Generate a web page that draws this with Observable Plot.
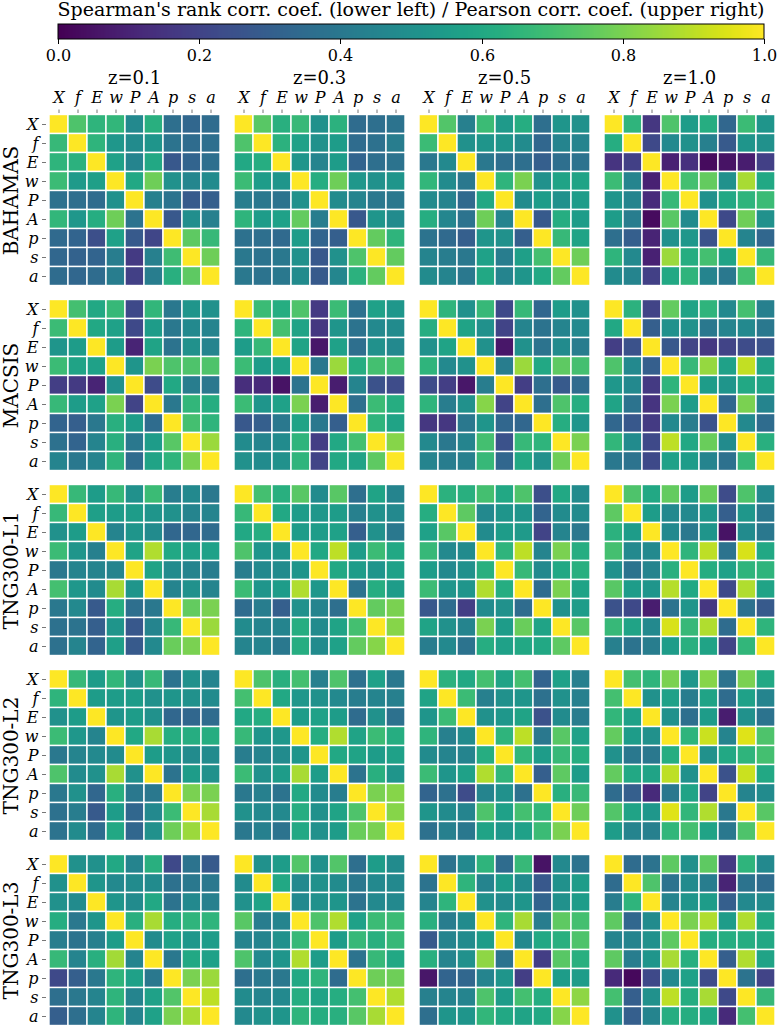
<!DOCTYPE html>
<html>
<head>
<meta charset="utf-8">
<script src="https://cdn.jsdelivr.net/npm/d3@7"></script>
<script src="https://cdn.jsdelivr.net/npm/@observablehq/plot@0.6"></script>
<style>
  html, body { margin: 0; padding: 0; background: white; }
  #legend svg, #chart svg { display: block; }
</style>
</head>
<body>
<div id="legend"></div>
<div id="chart"></div>
<script>
const title = "Spearman's rank corr. coef. (lower left) / Pearson corr. coef. (upper right)";
const vars = ["X", "f", "E", "w", "P", "A", "p", "s", "a"];
const redshifts = ["z=0.1", "z=0.3", "z=0.5", "z=1.0"];
const sims = ["BAHAMAS", "MACSIS", "TNG300-L1", "TNG300-L2", "TNG300-L3"];
const colorTicks = [0, 0.2, 0.4, 0.6, 0.8, 1.0];

// rows = y variable (X..a top to bottom), columns = x variable
const BAHAMAS_z01 = [
  [1, 0.72, 0.65, 0.66, 0.47, 0.63, 0.36, 0.33, 0.35],
  [0.67, 1, 0.65, 0.53, 0.48, 0.52, 0.38, 0.35, 0.36],
  [0.65, 0.64, 1, 0.57, 0.45, 0.60, 0.27, 0.32, 0.36],
  [0.68, 0.54, 0.56, 1, 0.60, 0.78, 0.50, 0.46, 0.48],
  [0.37, 0.36, 0.35, 0.50, 1, 0.43, 0.38, 0.28, 0.30],
  [0.66, 0.53, 0.62, 0.78, 0.38, 1, 0.27, 0.49, 0.43],
  [0.34, 0.32, 0.24, 0.57, 0.28, 0.21, 1, 0.75, 0.67],
  [0.33, 0.31, 0.32, 0.42, 0.17, 0.43, 0.69, 1, 0.78],
  [0.35, 0.33, 0.35, 0.42, 0.19, 0.42, 0.63, 0.75, 1]
];
const BAHAMAS_z03 = [
  [1, 0.74, 0.63, 0.67, 0.50, 0.64, 0.35, 0.36, 0.38],
  [0.72, 1, 0.64, 0.57, 0.50, 0.55, 0.35, 0.37, 0.42],
  [0.60, 0.62, 1, 0.52, 0.45, 0.55, 0.32, 0.36, 0.38],
  [0.68, 0.55, 0.52, 1, 0.62, 0.78, 0.53, 0.50, 0.52],
  [0.42, 0.40, 0.38, 0.50, 1, 0.48, 0.45, 0.40, 0.40],
  [0.65, 0.55, 0.57, 0.76, 0.42, 1, 0.27, 0.52, 0.48],
  [0.37, 0.36, 0.34, 0.55, 0.32, 0.30, 1, 0.76, 0.65],
  [0.40, 0.38, 0.40, 0.50, 0.27, 0.50, 0.72, 1, 0.76],
  [0.40, 0.38, 0.40, 0.48, 0.28, 0.46, 0.64, 0.76, 1]
];
const BAHAMAS_z05 = [
  [1, 0.73, 0.43, 0.68, 0.54, 0.62, 0.36, 0.52, 0.50],
  [0.68, 1, 0.50, 0.52, 0.52, 0.48, 0.33, 0.45, 0.45],
  [0.40, 0.47, 1, 0.40, 0.36, 0.36, 0.30, 0.36, 0.38],
  [0.66, 0.48, 0.40, 1, 0.65, 0.80, 0.50, 0.58, 0.58],
  [0.48, 0.45, 0.34, 0.60, 1, 0.48, 0.55, 0.50, 0.55],
  [0.62, 0.46, 0.38, 0.78, 0.45, 1, 0.28, 0.62, 0.55],
  [0.38, 0.34, 0.30, 0.52, 0.50, 0.30, 1, 0.67, 0.58],
  [0.45, 0.42, 0.40, 0.57, 0.42, 0.56, 0.70, 1, 0.78],
  [0.48, 0.45, 0.40, 0.60, 0.45, 0.52, 0.60, 0.76, 1]
];
const BAHAMAS_z10 = [
  [1, 0.65, 0.16, 0.72, 0.55, 0.62, 0.33, 0.68, 0.52],
  [0.62, 1, 0.22, 0.47, 0.50, 0.43, 0.28, 0.52, 0.50],
  [0.15, 0.19, 1, 0.09, 0.14, 0.03, 0.05, 0.08, 0.19],
  [0.68, 0.45, 0.09, 1, 0.70, 0.76, 0.50, 0.87, 0.60],
  [0.52, 0.45, 0.12, 0.67, 1, 0.50, 0.60, 0.65, 0.68],
  [0.55, 0.42, 0.03, 0.74, 0.48, 1, 0.22, 0.78, 0.50],
  [0.36, 0.30, 0.10, 0.50, 0.53, 0.25, 1, 0.45, 0.33],
  [0.65, 0.47, 0.09, 0.85, 0.62, 0.70, 0.58, 1, 0.67],
  [0.48, 0.45, 0.19, 0.60, 0.65, 0.45, 0.40, 0.70, 1]
];
const MACSIS_z01 = [
  [1, 0.70, 0.60, 0.67, 0.22, 0.66, 0.40, 0.52, 0.50],
  [0.68, 1, 0.60, 0.57, 0.22, 0.55, 0.40, 0.47, 0.45],
  [0.52, 0.55, 1, 0.55, 0.10, 0.58, 0.38, 0.50, 0.45],
  [0.68, 0.58, 0.57, 1, 0.52, 0.80, 0.72, 0.72, 0.72],
  [0.18, 0.17, 0.10, 0.50, 1, 0.23, 0.60, 0.42, 0.40],
  [0.67, 0.55, 0.57, 0.80, 0.20, 1, 0.40, 0.66, 0.62],
  [0.32, 0.30, 0.40, 0.63, 0.55, 0.35, 1, 0.70, 0.65],
  [0.37, 0.32, 0.45, 0.63, 0.40, 0.55, 0.74, 1, 0.85],
  [0.45, 0.40, 0.45, 0.65, 0.35, 0.58, 0.65, 0.80, 1]
];
const MACSIS_z03 = [
  [1, 0.68, 0.62, 0.72, 0.17, 0.68, 0.37, 0.57, 0.53],
  [0.65, 1, 0.70, 0.58, 0.16, 0.52, 0.38, 0.47, 0.48],
  [0.55, 0.67, 1, 0.58, 0.06, 0.57, 0.36, 0.50, 0.47],
  [0.68, 0.55, 0.57, 1, 0.40, 0.85, 0.62, 0.70, 0.70],
  [0.13, 0.12, 0.05, 0.38, 1, 0.08, 0.45, 0.25, 0.23],
  [0.68, 0.52, 0.57, 0.80, 0.08, 1, 0.36, 0.68, 0.62],
  [0.27, 0.30, 0.40, 0.58, 0.40, 0.30, 1, 0.65, 0.58],
  [0.48, 0.45, 0.48, 0.65, 0.18, 0.60, 0.70, 1, 0.82],
  [0.50, 0.48, 0.50, 0.65, 0.20, 0.60, 0.58, 0.75, 1]
];
const MACSIS_z05 = [
  [1, 0.65, 0.50, 0.67, 0.22, 0.67, 0.33, 0.55, 0.50],
  [0.62, 1, 0.58, 0.50, 0.20, 0.45, 0.38, 0.45, 0.47],
  [0.50, 0.58, 1, 0.50, 0.06, 0.50, 0.38, 0.48, 0.42],
  [0.65, 0.47, 0.50, 1, 0.42, 0.85, 0.60, 0.75, 0.70],
  [0.23, 0.18, 0.06, 0.42, 1, 0.18, 0.36, 0.28, 0.35],
  [0.65, 0.42, 0.50, 0.82, 0.20, 1, 0.36, 0.72, 0.62],
  [0.16, 0.16, 0.40, 0.52, 0.33, 0.33, 1, 0.62, 0.52],
  [0.47, 0.40, 0.45, 0.70, 0.25, 0.67, 0.65, 1, 0.80],
  [0.45, 0.42, 0.43, 0.67, 0.33, 0.60, 0.50, 0.78, 1]
];
const MACSIS_z10 = [
  [1, 0.64, 0.20, 0.76, 0.58, 0.65, 0.47, 0.70, 0.43],
  [0.60, 1, 0.30, 0.50, 0.50, 0.40, 0.45, 0.47, 0.40],
  [0.18, 0.25, 1, 0.27, 0.20, 0.16, 0.20, 0.23, 0.25],
  [0.72, 0.47, 0.30, 1, 0.67, 0.84, 0.57, 0.91, 0.58],
  [0.53, 0.47, 0.17, 0.65, 1, 0.55, 0.52, 0.60, 0.58],
  [0.58, 0.38, 0.15, 0.80, 0.55, 1, 0.33, 0.80, 0.45],
  [0.33, 0.27, 0.17, 0.47, 0.42, 0.25, 1, 0.47, 0.35],
  [0.66, 0.48, 0.22, 0.90, 0.60, 0.77, 0.48, 1, 0.63],
  [0.40, 0.38, 0.22, 0.57, 0.55, 0.45, 0.37, 0.67, 1]
];
const TNG300_L1_z01 = [
  [1, 0.67, 0.55, 0.67, 0.50, 0.68, 0.42, 0.47, 0.40],
  [0.67, 1, 0.56, 0.55, 0.55, 0.52, 0.50, 0.45, 0.45],
  [0.50, 0.55, 1, 0.45, 0.52, 0.48, 0.33, 0.33, 0.35],
  [0.68, 0.52, 0.43, 1, 0.58, 0.88, 0.60, 0.57, 0.57],
  [0.40, 0.45, 0.45, 0.45, 1, 0.58, 0.48, 0.45, 0.42],
  [0.70, 0.53, 0.48, 0.87, 0.52, 1, 0.45, 0.50, 0.45],
  [0.40, 0.47, 0.28, 0.62, 0.36, 0.40, 1, 0.76, 0.80],
  [0.37, 0.38, 0.30, 0.52, 0.27, 0.45, 0.67, 1, 0.85],
  [0.37, 0.45, 0.32, 0.56, 0.28, 0.47, 0.77, 0.80, 1]
];
const TNG300_L1_z03 = [
  [1, 0.70, 0.63, 0.74, 0.48, 0.74, 0.36, 0.58, 0.45],
  [0.67, 1, 0.60, 0.55, 0.53, 0.55, 0.43, 0.50, 0.47],
  [0.60, 0.62, 1, 0.55, 0.55, 0.57, 0.30, 0.50, 0.40],
  [0.72, 0.52, 0.52, 1, 0.60, 0.90, 0.55, 0.68, 0.60],
  [0.42, 0.47, 0.48, 0.52, 1, 0.60, 0.55, 0.52, 0.57],
  [0.68, 0.52, 0.55, 0.88, 0.53, 1, 0.38, 0.62, 0.55],
  [0.35, 0.42, 0.30, 0.50, 0.45, 0.36, 1, 0.76, 0.80],
  [0.48, 0.45, 0.45, 0.62, 0.48, 0.58, 0.70, 1, 0.82],
  [0.45, 0.45, 0.40, 0.62, 0.48, 0.57, 0.76, 0.82, 1]
];
const TNG300_L1_z05 = [
  [1, 0.64, 0.63, 0.70, 0.60, 0.72, 0.24, 0.60, 0.48],
  [0.62, 1, 0.75, 0.47, 0.52, 0.52, 0.32, 0.48, 0.48],
  [0.57, 0.74, 1, 0.48, 0.55, 0.54, 0.20, 0.45, 0.40],
  [0.67, 0.47, 0.48, 1, 0.65, 0.90, 0.45, 0.80, 0.62],
  [0.55, 0.47, 0.50, 0.63, 1, 0.67, 0.47, 0.60, 0.63],
  [0.68, 0.52, 0.52, 0.88, 0.62, 1, 0.35, 0.80, 0.58],
  [0.27, 0.35, 0.18, 0.48, 0.50, 0.35, 1, 0.50, 0.55],
  [0.58, 0.50, 0.45, 0.80, 0.55, 0.77, 0.58, 1, 0.74],
  [0.42, 0.47, 0.38, 0.62, 0.57, 0.60, 0.60, 0.75, 1]
];
const TNG300_L1_z10 = [
  [1, 0.72, 0.60, 0.76, 0.55, 0.77, 0.23, 0.72, 0.47],
  [0.75, 1, 0.55, 0.47, 0.47, 0.53, 0.30, 0.53, 0.40],
  [0.64, 0.55, 1, 0.47, 0.40, 0.52, 0.05, 0.48, 0.40],
  [0.70, 0.47, 0.47, 1, 0.65, 0.90, 0.38, 0.94, 0.60],
  [0.50, 0.38, 0.45, 0.63, 1, 0.62, 0.57, 0.65, 0.65],
  [0.74, 0.55, 0.52, 0.89, 0.60, 1, 0.22, 0.88, 0.58],
  [0.25, 0.22, 0.08, 0.38, 0.52, 0.16, 1, 0.37, 0.28],
  [0.67, 0.58, 0.47, 0.94, 0.67, 0.88, 0.35, 1, 0.65],
  [0.43, 0.38, 0.42, 0.55, 0.63, 0.58, 0.20, 0.66, 1]
];
const TNG300_L2_z01 = [
  [1, 0.67, 0.55, 0.66, 0.50, 0.67, 0.38, 0.50, 0.45],
  [0.65, 1, 0.55, 0.55, 0.55, 0.50, 0.52, 0.50, 0.48],
  [0.50, 0.55, 1, 0.52, 0.55, 0.50, 0.33, 0.33, 0.35],
  [0.68, 0.53, 0.45, 1, 0.60, 0.87, 0.62, 0.62, 0.62],
  [0.40, 0.45, 0.47, 0.48, 1, 0.55, 0.52, 0.48, 0.48],
  [0.72, 0.48, 0.50, 0.87, 0.50, 1, 0.38, 0.55, 0.50],
  [0.40, 0.50, 0.33, 0.63, 0.40, 0.40, 1, 0.80, 0.80],
  [0.37, 0.42, 0.28, 0.55, 0.33, 0.47, 0.68, 1, 0.87],
  [0.38, 0.48, 0.35, 0.60, 0.33, 0.50, 0.78, 0.85, 1]
];
const TNG300_L2_z03 = [
  [1, 0.72, 0.63, 0.70, 0.43, 0.72, 0.37, 0.57, 0.40],
  [0.70, 1, 0.60, 0.53, 0.50, 0.47, 0.42, 0.45, 0.43],
  [0.60, 0.62, 1, 0.55, 0.57, 0.55, 0.35, 0.50, 0.37],
  [0.67, 0.52, 0.53, 1, 0.62, 0.88, 0.58, 0.68, 0.62],
  [0.42, 0.45, 0.48, 0.52, 1, 0.60, 0.58, 0.55, 0.57],
  [0.68, 0.50, 0.55, 0.87, 0.55, 1, 0.38, 0.63, 0.52],
  [0.40, 0.43, 0.38, 0.60, 0.48, 0.42, 1, 0.80, 0.82],
  [0.50, 0.47, 0.47, 0.62, 0.50, 0.58, 0.72, 1, 0.82],
  [0.40, 0.43, 0.38, 0.60, 0.50, 0.55, 0.77, 0.80, 1]
];
const TNG300_L2_z05 = [
  [1, 0.64, 0.60, 0.70, 0.58, 0.70, 0.32, 0.57, 0.43],
  [0.58, 1, 0.68, 0.43, 0.50, 0.52, 0.37, 0.50, 0.43],
  [0.52, 0.68, 1, 0.50, 0.53, 0.58, 0.25, 0.48, 0.42],
  [0.65, 0.43, 0.48, 1, 0.65, 0.90, 0.40, 0.74, 0.57],
  [0.48, 0.45, 0.45, 0.62, 1, 0.66, 0.55, 0.67, 0.62],
  [0.68, 0.52, 0.57, 0.88, 0.66, 1, 0.30, 0.75, 0.55],
  [0.32, 0.37, 0.23, 0.45, 0.50, 0.37, 1, 0.63, 0.67],
  [0.52, 0.48, 0.45, 0.72, 0.57, 0.70, 0.66, 1, 0.78],
  [0.37, 0.43, 0.40, 0.58, 0.53, 0.57, 0.68, 0.80, 1]
];
const TNG300_L2_z10 = [
  [1, 0.70, 0.65, 0.80, 0.53, 0.82, 0.38, 0.80, 0.60],
  [0.70, 1, 0.50, 0.57, 0.42, 0.58, 0.35, 0.57, 0.45],
  [0.66, 0.57, 1, 0.50, 0.36, 0.55, 0.08, 0.50, 0.38],
  [0.76, 0.55, 0.50, 1, 0.65, 0.92, 0.45, 0.95, 0.72],
  [0.50, 0.40, 0.40, 0.62, 1, 0.50, 0.60, 0.65, 0.70],
  [0.76, 0.60, 0.58, 0.90, 0.50, 1, 0.25, 0.92, 0.60],
  [0.35, 0.30, 0.12, 0.40, 0.58, 0.20, 1, 0.45, 0.48],
  [0.73, 0.58, 0.53, 0.95, 0.66, 0.88, 0.40, 1, 0.74],
  [0.55, 0.45, 0.43, 0.66, 0.70, 0.58, 0.40, 0.72, 1]
];
const TNG300_L3_z01 = [
  [1, 0.50, 0.50, 0.60, 0.45, 0.63, 0.22, 0.38, 0.28],
  [0.50, 1, 0.52, 0.47, 0.48, 0.48, 0.37, 0.40, 0.40],
  [0.50, 0.48, 1, 0.52, 0.48, 0.60, 0.38, 0.47, 0.43],
  [0.62, 0.40, 0.52, 1, 0.63, 0.87, 0.62, 0.65, 0.65],
  [0.42, 0.38, 0.43, 0.55, 1, 0.48, 0.57, 0.53, 0.55],
  [0.67, 0.45, 0.63, 0.86, 0.45, 1, 0.40, 0.60, 0.57],
  [0.22, 0.30, 0.40, 0.65, 0.57, 0.40, 1, 0.80, 0.85],
  [0.36, 0.40, 0.45, 0.65, 0.45, 0.57, 0.73, 1, 0.90],
  [0.30, 0.36, 0.45, 0.65, 0.45, 0.57, 0.80, 0.87, 1]
];
const TNG300_L3_z03 = [
  [1, 0.50, 0.55, 0.73, 0.50, 0.73, 0.36, 0.55, 0.48],
  [0.48, 1, 0.60, 0.47, 0.50, 0.48, 0.40, 0.47, 0.47],
  [0.50, 0.58, 1, 0.47, 0.50, 0.52, 0.38, 0.47, 0.47],
  [0.74, 0.42, 0.45, 1, 0.72, 0.88, 0.57, 0.68, 0.68],
  [0.45, 0.45, 0.50, 0.67, 1, 0.55, 0.67, 0.63, 0.67],
  [0.72, 0.47, 0.52, 0.88, 0.55, 1, 0.38, 0.67, 0.60],
  [0.36, 0.40, 0.40, 0.60, 0.65, 0.35, 1, 0.78, 0.78],
  [0.48, 0.45, 0.47, 0.62, 0.58, 0.62, 0.70, 1, 0.88],
  [0.47, 0.50, 0.52, 0.65, 0.62, 0.63, 0.74, 0.87, 1]
];
const TNG300_L3_z05 = [
  [1, 0.38, 0.47, 0.65, 0.35, 0.67, 0.05, 0.47, 0.38],
  [0.38, 1, 0.65, 0.45, 0.55, 0.48, 0.27, 0.50, 0.55],
  [0.45, 0.65, 1, 0.50, 0.48, 0.52, 0.32, 0.50, 0.55],
  [0.63, 0.42, 0.48, 1, 0.65, 0.87, 0.42, 0.75, 0.70],
  [0.28, 0.45, 0.48, 0.55, 1, 0.47, 0.60, 0.63, 0.72],
  [0.63, 0.45, 0.50, 0.83, 0.38, 1, 0.18, 0.74, 0.63],
  [0.06, 0.32, 0.33, 0.45, 0.52, 0.18, 1, 0.55, 0.55],
  [0.43, 0.45, 0.45, 0.72, 0.55, 0.70, 0.62, 1, 0.83],
  [0.36, 0.52, 0.52, 0.66, 0.60, 0.58, 0.60, 0.82, 1]
];
const TNG300_L3_z10 = [
  [1, 0.35, 0.38, 0.75, 0.50, 0.75, 0.17, 0.65, 0.47],
  [0.35, 1, 0.72, 0.38, 0.48, 0.42, 0.10, 0.38, 0.35],
  [0.42, 0.65, 1, 0.45, 0.52, 0.55, 0.30, 0.47, 0.48],
  [0.75, 0.33, 0.48, 1, 0.80, 0.88, 0.55, 0.88, 0.60],
  [0.45, 0.45, 0.50, 0.75, 1, 0.62, 0.62, 0.62, 0.60],
  [0.75, 0.42, 0.52, 0.87, 0.63, 1, 0.30, 0.88, 0.58],
  [0.12, 0.02, 0.22, 0.47, 0.57, 0.23, 1, 0.38, 0.20],
  [0.70, 0.30, 0.50, 0.90, 0.62, 0.87, 0.22, 1, 0.67],
  [0.50, 0.30, 0.45, 0.62, 0.62, 0.60, 0.12, 0.70, 1]
];

const matrices = [
  [BAHAMAS_z01, BAHAMAS_z03, BAHAMAS_z05, BAHAMAS_z10],
  [MACSIS_z01, MACSIS_z03, MACSIS_z05, MACSIS_z10],
  [TNG300_L1_z01, TNG300_L1_z03, TNG300_L1_z05, TNG300_L1_z10],
  [TNG300_L2_z01, TNG300_L2_z03, TNG300_L2_z05, TNG300_L2_z10],
  [TNG300_L3_z01, TNG300_L3_z03, TNG300_L3_z05, TNG300_L3_z10]
];

const table = [];
sims.forEach((sim, si) => {
  redshifts.forEach((z, zi) => {
    matrices[si][zi].forEach((row, ri) => {
      row.forEach((v, ci) => {
        table.push({sim, z, row: vars[ri], col: vars[ci], value: v});
      });
    });
  });
});

const serif = '"DejaVu Serif", serif';
const midVar = vars[Math.floor(vars.length / 2)];

// ---- colour bar (legend) ----
const LW = 781, LH = 66, LML = 58, LMR = 17, LMT = 24, LMB = 27;
const legend = Plot.legend({
  color: {type: "linear", scheme: "viridis", domain: [0, 1], label: title},
  width: LW, height: LH, marginLeft: LML, marginRight: LMR, marginTop: LMT, marginBottom: LMB,
  ticks: colorTicks.length - 1, tickFormat: ".1f", tickSize: 8,
  style: {fontFamily: serif, fontSize: "16px", color: "black", overflow: "visible"}
});
document.getElementById("legend").append(legend);
{
  const s = d3.select(legend);
  s.selectAll("text").attr("font-family", serif).attr("font-size", 16);
  s.selectAll("g").attr("font-family", null).attr("font-size", null);
  s.selectAll("text").filter(function() { return this.textContent === title; })
    .attr("x", (LML + LW - LMR) / 2).attr("y", LMT - 8)
    .attr("text-anchor", "middle").attr("font-weight", "normal")
    .attr("font-size", 19);
  s.selectAll(".tick line").attr("y1", 0).attr("y2", 5);
  const img = s.select("image");
  if (!img.empty()) {
    s.append("rect")
      .attr("x", img.attr("x")).attr("y", img.attr("y"))
      .attr("width", img.attr("width")).attr("height", img.attr("height"))
      .attr("fill", "none").attr("stroke", "black").attr("stroke-width", 1);
  }
}

// ---- heatmap grid ----
const H = 1032 - LH;
const chart = Plot.plot({
  width: 781,
  height: H,
  marginLeft: 45,
  marginRight: 3,
  marginTop: 110.5 - LH,
  marginBottom: 3,
  style: {fontFamily: serif, color: "black", background: "white"},
  fx: {domain: redshifts, paddingInner: 0.05, paddingOuter: 0, axis: null},
  fy: {domain: sims, paddingInner: 0.048, paddingOuter: 0, axis: null},
  x: {domain: vars, padding: 0},
  y: {domain: vars, padding: 0},
  color: {type: "linear", scheme: "viridis", domain: [0, 1]},
  marks: [
    Plot.cell(table, {x: "col", y: "row", fx: "z", fy: "sim", fill: "value", stroke: "white", strokeWidth: 1.4}),
    Plot.axisX({anchor: "top", tickSize: 3.5, tickPadding: 6, label: null, fontSize: 16, fontStyle: "italic", fontFamily: serif, stroke: "#777"}),
    Plot.axisY({anchor: "left", tickSize: 4, tickPadding: 4, label: null, fontSize: 16, fontStyle: "italic", fontFamily: serif, stroke: "#777"}),
    Plot.text(redshifts, {fx: d => d, fy: () => sims[0], frameAnchor: "top", textAnchor: "middle", lineAnchor: "middle", dy: -34, text: d => d, fontSize: 18, fontFamily: serif}),
    Plot.text(sims, {fx: () => redshifts[0], fy: d => d, y: () => midVar, frameAnchor: "left", textAnchor: "middle", lineAnchor: "middle", dx: -34.5, rotate: -90, text: d => d, fontSize: 20, fontFamily: serif, className: "row-label"})
  ]
});
document.getElementById("chart").append(chart);
// make sure the rotated row labels are centred on their panel
d3.select(chart).selectAll("text")
  .filter(function() { return sims.includes(this.textContent) || redshifts.includes(this.textContent); })
  .attr("text-anchor", "middle")
  .each(function() { d3.select(this.parentNode).attr("text-anchor", "middle"); });
</script>
</body>
</html>
